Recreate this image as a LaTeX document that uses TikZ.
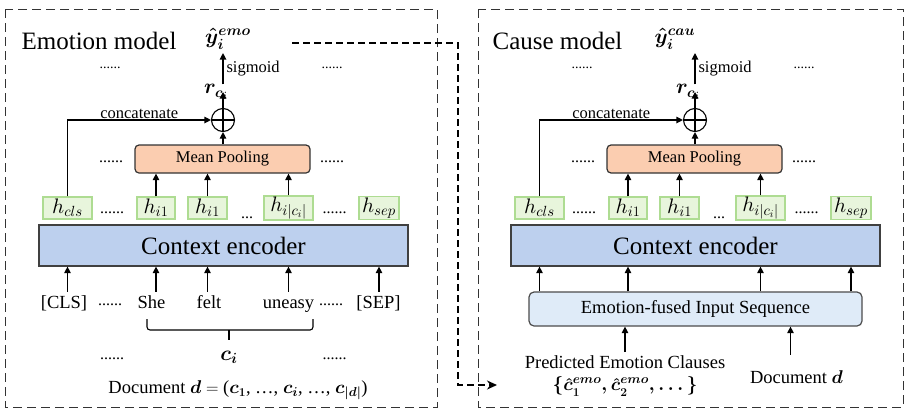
\documentclass[tikz,border=0pt]{standalone}
\usepackage{fontspec}
\setmainfont{Liberation Serif}
\usepackage{amsmath}
\usetikzlibrary{arrows.meta}

\DeclareFontShape{OML}{cmm}{m}{it}{<->cmmi10}{}
\DeclareFontShape{OML}{cmm}{b}{it}{<->cmmib10}{}
\DeclareFontShape{OMS}{cmsy}{m}{n}{<->cmsy10}{}
\DeclareFontShape{OMS}{cmsy}{b}{n}{<->cmbsy10}{}

\definecolor{encblue}{HTML}{BDD0EE}
\definecolor{poolpeach}{HTML}{FBCDB0}
\definecolor{hfill}{HTML}{E8F5DC}
\definecolor{hline}{HTML}{AEDC92}
\definecolor{seqblue}{HTML}{DFEBF8}

\newcommand{\fsbig}{\fontsize{25}{30}\selectfont}
\newcommand{\fstok}{\fontsize{18.5}{24}\selectfont}
\newcommand{\fspool}{\fontsize{16.5}{20}\selectfont}
\newcommand{\fsmath}{\fontsize{21}{26}\selectfont}
\newcommand{\fsdot}{\fontsize{16}{20}\selectfont}

\begin{document}
\begin{tikzpicture}[x=1pt,y=-1pt,
  arr/.style={-{Triangle[length=6.5pt,width=6.5pt]},line width=1.1pt},
  modelbox/.style={draw=black!80,line width=1pt,dash pattern=on 9pt off 5pt},
  link/.style={line width=1.6pt,dash pattern=on 7pt off 4pt,-{Stealth[length=10pt,width=9pt]}},
  hbox/.style={draw=hline,fill=hfill,line width=1.2pt,minimum height=22,inner sep=1pt,font=\fsmath},
  encbox/.style={draw=black!75,fill=encblue,line width=1.2pt,minimum width=369,minimum height=41,font=\fsbig},
  pool/.style={draw=black!80,fill=poolpeach,rounded corners=4pt,line width=1.2pt,minimum width=175,minimum height=28,font=\fspool},
  seqbox/.style={draw=black!70,fill=seqblue,rounded corners=5pt,line width=1.2pt,minimum width=333,minimum height=34,font=\fstok},
  addop/.style={draw,circle,minimum size=23,inner sep=0,line width=1.1pt,
    path picture={\draw[line width=1.1pt] (path picture bounding box.north) -- (path picture bounding box.south)
      (path picture bounding box.west) -- (path picture bounding box.east);}},
  dots/.style={inner sep=0,font=\fsdot},
  tok/.style={anchor=base,font=\fstok,text height=14pt,text depth=4pt,inner sep=2pt},
  bmath/.style={font=\fsmath\boldmath}]
\useasboundingbox (0,0) rectangle (907,410);

\draw[modelbox] (5,9) rectangle (437,407);
\draw[modelbox] (478,9) rectangle (903,407);

\foreach \m/\s/\tx/\yx/\ttl in {emo/0/99/228/Emotion model,cau/472/85.5/203/Cause model}{
\begin{scope}[xshift=\s]
\node[font=\fsbig] (title-\m) at (\tx,41) {\ttl};
\node[bmath] (y-\m) at (\yx,39) {$\hat{y}_i^{\m}$};
\node[encbox] (enc-\m) at (223.5,245.5) {Context encoder};
\node[hbox,minimum width=49] (hcls-\m) at (67.5,208) {$h_{cls}$};
\node[hbox,minimum width=38] (hia-\m) at (156,208) {$h_{i1}$};
\node[hbox,minimum width=39] (hib-\m) at (207.5,208) {$h_{i1}$};
\node[hbox,minimum width=49] (hic-\m) at (288.5,208) {$h_{i|c_i|}$};
\node[hbox,minimum width=40] (hsep-\m) at (379,208) {$h_{sep}$};
\node[dots] (hd1-\m) at (112,213) {......};
\node[dots] (hd2-\m) at (247,218) {...};
\node[dots] (hd3-\m) at (334.5,213) {......};
\node[pool] (pool-\m) at (222.5,159) {Mean Pooling};
\node[dots] (pd1-\m) at (111,162) {......};
\node[dots] (pd2-\m) at (332,162) {......};
\node[addop] (add-\m) at (223,120) {};
\node[bmath,inner sep=0] (r-\m) at (216,92) {$r_{c_i}$};
\node[dots,font=\fontsize{14}{16}\selectfont] (td1-\m) at (110,68) {......};
\node[dots,font=\fontsize{14}{16}\selectfont] (td2-\m) at (332,68) {......};
\foreach \h in {hia,hib,hic}
  \draw[arr] (\h-\m.north) -- (\h-\m.north |- pool-\m.south);
\draw[arr] (pool-\m.north -| add-\m) -- (add-\m.south);
\draw[arr] (hcls-\m.north) |- (add-\m.west) node[pos=0.75,above,font=\fspool,inner sep=1pt] (cat-\m) {concatenate};
\draw[arr] (add-\m.north) -- (add-\m.north |- r-\m);
\draw[arr] (r-\m.north -| add-\m) -- (y-\m.south -| add-\m) node[midway,right,font=\fspool,inner sep=3pt] (sig-\m) {sigmoid};
\end{scope}
}

\node[tok] (cls) at (64,308) {[CLS]};
\node[tok] (she) at (151.5,308) {She};
\node[tok] (felt) at (209,308) {felt};
\node[tok] (uneasy) at (288.5,308) {uneasy};
\node[tok] (sep) at (378.5,308) {[SEP]};
\node[dots] (wd1) at (110,305) {......};
\node[dots] (wd2) at (331,305) {......};
\draw[arr] (cls.north -| hcls-emo) -- (enc-emo.south -| hcls-emo);
\draw[arr] (she.north -| hia-emo) -- (enc-emo.south -| hia-emo);
\draw[arr] (felt.north -| hib-emo) -- (enc-emo.south -| hib-emo);
\draw[arr] (uneasy.north -| hic-emo) -- (enc-emo.south -| hic-emo);
\draw[arr] (sep.north -| hsep-emo) -- (enc-emo.south -| hsep-emo);
\coordinate (brl) at (147,319);
\coordinate (brr) at (313,319);
\coordinate (brm) at (229,330);
\draw[line width=1.1pt,rounded corners=3pt] (brl) -- ++(0,11) -| (brr);
\draw[line width=1.1pt] (brm) -- ++(0,10);
\node[bmath] (ci) at (229,357) {$c_i$};
\node[dots] (cd1) at (112,359) {......};
\node[dots] (cd2) at (334.5,359) {......};
\node[font=\fstok] (doc-emo) at (238,390) {Document {\boldmath$d$} $=$ ({\boldmath$c_1$}, \dots, {\boldmath$c_i$}, \dots, {\boldmath$c_{|d|}$})};

\node[seqbox] (seq) at (695.5,309) {Emotion-fused Input Sequence};
\foreach \h in {hcls,hia,hic,hsep}
  \draw[arr] (seq.north -| \h-cau) -- (enc-cau.south -| \h-cau);
\node[font=\fstok,align=center] (pred) at (625,376) {Predicted Emotion Clauses\\[-2pt] {\boldmath$\{\hat{c}_1^{emo},\hat{c}_2^{emo},\dots\}$}};
\node[font=\fstok] (doc-cau) at (796.5,377) {Document {\boldmath$d$}};
\draw[arr] (pred.north) -- (pred.north |- seq.south);
\draw[arr,shorten <=12pt] ([xshift=-6pt]doc-cau.north) -- ([xshift=-6pt]doc-cau.north |- seq.south);

\coordinate (lk-a) at (292,43);
\coordinate (lk-m) at (458,0);
\coordinate (lk-b) at (497,385);
\draw[link] (lk-a) -| (lk-m |- lk-b) -- (lk-b);
\end{tikzpicture}
\end{document}
